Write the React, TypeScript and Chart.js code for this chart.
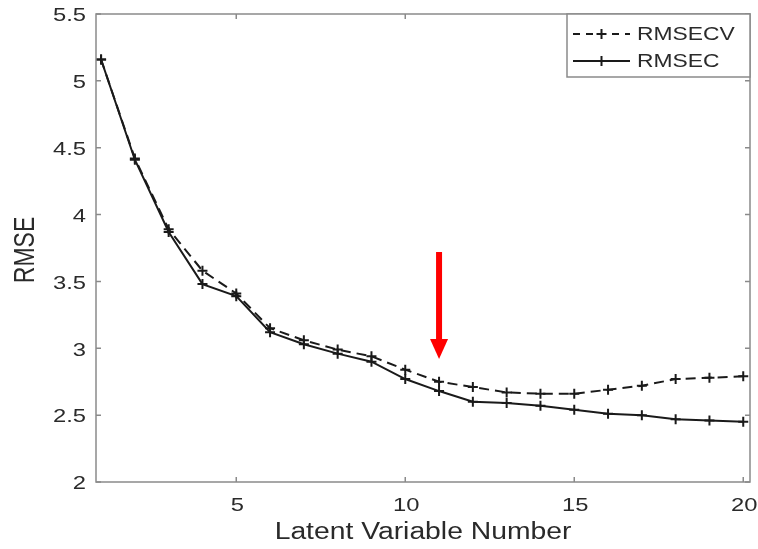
import React, { useEffect, useRef } from "react";
import { Chart, registerables } from "chart.js";

Chart.register(...registerables);

const latentVariables = [1, 2, 3, 4, 5, 6, 7, 8, 9, 10, 11, 12, 13, 14, 15, 16, 17, 18, 19, 20];
const rmsecv = [5.16, 4.42, 3.89, 3.58, 3.41, 3.15, 3.06, 2.99, 2.94, 2.84, 2.75, 2.71, 2.67, 2.66, 2.66, 2.69, 2.72, 2.77, 2.78, 2.79];
const rmsec = [5.16, 4.41, 3.87, 3.48, 3.39, 3.12, 3.03, 2.96, 2.90, 2.77, 2.68, 2.60, 2.59, 2.57, 2.54, 2.51, 2.50, 2.47, 2.46, 2.45];
const xTicks = [5, 10, 15, 20];
const yTicks = [2, 2.5, 3, 3.5, 4, 4.5, 5, 5.5];
const seriesNames = ["RMSECV", "RMSEC"];
const xTitle = "Latent Variable Number";
const yTitle = "RMSE";
const arrowX = 11;
const arrowFrom = 3.72;
const arrowTo = 2.92;

const FONT = "'Liberation Sans', Arial, Helvetica, sans-serif";
const TEXT = "#2a2a2a";
const STRETCH = 1.25;

function stretchedText(ctx: any, text: string, x: number, y: number, align: string, sx: number) {
  ctx.save();
  ctx.translate(x, y);
  ctx.scale(sx, 1);
  ctx.textAlign = align;
  ctx.fillText(text, 0, 0);
  ctx.restore();
}

const framePlugin = {
  id: "frame",
  afterDatasetsDraw(chart: any) {
    const { ctx, chartArea: a, scales } = chart;
    const xs = scales.x;
    const ys = scales.y;
    ctx.save();
    // box
    ctx.strokeStyle = "#8a8a8a";
    ctx.lineWidth = 1.5;
    ctx.strokeRect(a.left, a.top, a.right - a.left, a.bottom - a.top);
    // inward ticks
    const tl = 5;
    ctx.beginPath();
    xTicks.forEach((v) => {
      const px = xs.getPixelForValue(v);
      ctx.moveTo(px, a.bottom);
      ctx.lineTo(px, a.bottom - tl);
      ctx.moveTo(px, a.top);
      ctx.lineTo(px, a.top + tl);
    });
    yTicks.forEach((v) => {
      const py = ys.getPixelForValue(v);
      ctx.moveTo(a.left, py);
      ctx.lineTo(a.left + tl, py);
      ctx.moveTo(a.right, py);
      ctx.lineTo(a.right - tl, py);
    });
    ctx.stroke();

    // tick labels
    ctx.fillStyle = TEXT;
    ctx.font = `19px ${FONT}`;
    ctx.textBaseline = "middle";
    yTicks.forEach((v) => {
      const py = ys.getPixelForValue(v);
      stretchedText(ctx, String(v), a.left - 10, py + 2, "right", STRETCH);
    });
    xTicks.forEach((v) => {
      const px = xs.getPixelForValue(v);
      stretchedText(ctx, String(v), px + 1, a.bottom + 24, "center", STRETCH);
    });
    // titles
    ctx.font = `23px ${FONT}`;
    stretchedText(ctx, xTitle, (a.left + a.right) / 2, a.bottom + 51, "center", 1.23);
    ctx.save();
    ctx.translate(26, (a.top + a.bottom) / 2 + 2);
    ctx.rotate(-Math.PI / 2);
    ctx.scale(1, STRETCH);
    ctx.textAlign = "center";
    ctx.fillText(yTitle, 0, 0);
    ctx.restore();

    // red arrow
    const ax = xs.getPixelForValue(arrowX);
    const y0 = ys.getPixelForValue(arrowFrom);
    const y1 = ys.getPixelForValue(arrowTo);
    const headH = 20;
    const headW = 18;
    ctx.fillStyle = "#ff0000";
    ctx.fillRect(ax - 3, y0, 6, y1 - y0 - headH + 1);
    ctx.beginPath();
    ctx.moveTo(ax - headW / 2, y1 - headH);
    ctx.lineTo(ax + headW / 2, y1 - headH);
    ctx.lineTo(ax, y1);
    ctx.closePath();
    ctx.fill();

    // legend
    const lw = 183;
    const lh = 63;
    const lx0 = a.right - lw;
    const ly0 = a.top;
    ctx.fillStyle = "#fff";
    ctx.fillRect(lx0, ly0, lw, lh);
    ctx.strokeStyle = "#8a8a8a";
    ctx.lineWidth = 1.5;
    ctx.strokeRect(lx0, ly0, lw, lh);
    const rows = [ly0 + 20, ly0 + 47];
    rows.forEach((ry, i) => {
      ctx.strokeStyle = "#1a1a1a";
      ctx.lineWidth = 2;
      ctx.setLineDash(i === 0 ? [7, 6] : []);
      ctx.beginPath();
      ctx.moveTo(lx0 + 6, ry);
      ctx.lineTo(lx0 + 63, ry);
      ctx.stroke();
      ctx.setLineDash([]);
      ctx.beginPath();
      ctx.moveTo(lx0 + 34.5 - 5, ry);
      ctx.lineTo(lx0 + 34.5 + 5, ry);
      ctx.moveTo(lx0 + 34.5, ry - 5);
      ctx.lineTo(lx0 + 34.5, ry + 5);
      ctx.stroke();
      ctx.fillStyle = TEXT;
      ctx.font = `18px ${FONT}`;
      ctx.textBaseline = "middle";
      stretchedText(ctx, seriesNames[i], lx0 + 70, ry + 1, "left", 1.27);
    });
    ctx.restore();
  },
};

export default function App() {
  const ref = useRef<HTMLCanvasElement | null>(null);
  useEffect(() => {
    if (!ref.current) return;
    const chart = new Chart(ref.current, {
      type: "line",
      data: {
        datasets: [
          {
            label: seriesNames[0],
            data: latentVariables.map((x, i) => ({ x, y: rmsecv[i] })),
            borderColor: "#1a1a1a",
            borderWidth: 2,
            borderDash: [10, 6],
            pointStyle: "cross",
            pointRadius: 5,
            pointBorderColor: "#1a1a1a",
            pointBorderWidth: 2,
            fill: false,
            tension: 0,
          },
          {
            label: seriesNames[1],
            data: latentVariables.map((x, i) => ({ x, y: rmsec[i] })),
            borderColor: "#1a1a1a",
            borderWidth: 2,
            pointStyle: "cross",
            pointRadius: 5,
            pointBorderColor: "#1a1a1a",
            pointBorderWidth: 2,
            fill: false,
            tension: 0,
          },
        ],
      },
      options: {
        animation: false,
        responsive: false,
        maintainAspectRatio: false,
        layout: { padding: { left: 0, right: 8, top: 14, bottom: 0 } },
        plugins: {
          legend: { display: false },
          tooltip: { enabled: false },
        },
        scales: {
          x: {
            type: "linear",
            min: 0.85,
            max: 20.2,
            afterBuildTicks: (s: any) => {
              s.ticks = xTicks.map((v) => ({ value: v }));
            },
            afterFit: (s: any) => {
              s.height = 67;
            },
            grid: { display: false, drawTicks: false },
            border: { display: false },
            ticks: { display: false },
            title: { display: false },
          },
          y: {
            type: "linear",
            min: 2,
            max: 5.5,
            afterFit: (s: any) => {
              s.width = 96;
            },
            grid: { display: false, drawTicks: false },
            border: { display: false },
            ticks: { display: false, stepSize: 0.5 },
            title: { display: false },
          },
        },
      },
      plugins: [framePlugin],
    });
    return () => chart.destroy();
  }, []);
  return (
    <div style={{ position: "fixed", left: 0, top: 0, width: 758, height: 549, background: "#fff" }}>
      <canvas ref={ref} width={758} height={549} style={{ display: "block", width: 758, height: 549 }} />
    </div>
  );
}
